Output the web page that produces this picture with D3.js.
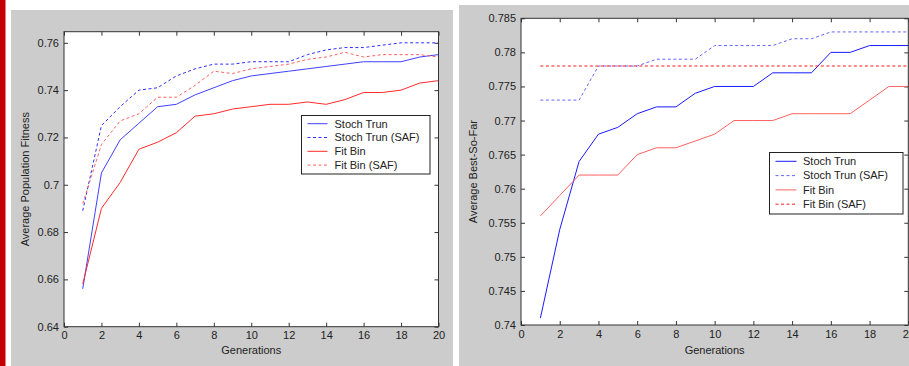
<!DOCTYPE html>
<html>
<head>
<meta charset="utf-8" />
<title>population fitness</title>
<script src="https://cdnjs.cloudflare.com/ajax/libs/d3/7.8.5/d3.min.js"></script>
<style>
    html,
    body {
        margin: 0;
        padding: 0;
        background: #fff;
    }

    svg {
        display: block;
        font-family: Arial, "Liberation Sans", sans-serif;
        overflow: hidden;
    }

    .tick line {
        stroke: #333;
    }

    .tick text {
        fill: #222;
        font-size: 11px;
    }
</style>
</head>
<body>
<svg id="chart" width="909" height="366"></svg>
<script>
    const generations = [1, 2, 3, 4, 5, 6, 7, 8, 9, 10, 11, 12, 13, 14, 15, 16, 17, 18, 19, 20];
    const seriesNames = ["Stoch Trun", "Stoch Trun (SAF)", "Fit Bin", "Fit Bin (SAF)"];

    // left: average population fitness
    const popStochTrun = [0.656, 0.705, 0.719, 0.726, 0.733, 0.734, 0.738, 0.741, 0.744, 0.746,
        0.747, 0.748, 0.749, 0.750, 0.751, 0.752, 0.752, 0.752, 0.754, 0.755];
    const popStochTrunSAF = [0.689, 0.725, 0.733, 0.740, 0.741, 0.746, 0.749, 0.751, 0.751, 0.752,
        0.752, 0.752, 0.755, 0.757, 0.758, 0.758, 0.759, 0.760, 0.760, 0.760];
    const popFitBin = [0.658, 0.690, 0.701, 0.715, 0.718, 0.722, 0.729, 0.730, 0.732, 0.733,
        0.734, 0.734, 0.735, 0.734, 0.736, 0.739, 0.739, 0.740, 0.743, 0.744];
    const popFitBinSAF = [0.692, 0.717, 0.727, 0.730, 0.737, 0.737, 0.742, 0.748, 0.747, 0.749,
        0.750, 0.751, 0.753, 0.754, 0.756, 0.754, 0.755, 0.755, 0.755, 0.754];

    // right: average best-so-far
    const bsfStochTrun = [0.741, 0.754, 0.764, 0.768, 0.769, 0.771, 0.772, 0.772, 0.774, 0.775,
        0.775, 0.775, 0.777, 0.777, 0.777, 0.780, 0.780, 0.781, 0.781, 0.781];
    const bsfStochTrunSAF = [0.773, 0.773, 0.773, 0.778, 0.778, 0.778, 0.779, 0.779, 0.779, 0.781,
        0.781, 0.781, 0.781, 0.782, 0.782, 0.783, 0.783, 0.783, 0.783, 0.783];
    const bsfFitBin = [0.756, 0.759, 0.762, 0.762, 0.762, 0.765, 0.766, 0.766, 0.767, 0.768,
        0.770, 0.770, 0.770, 0.771, 0.771, 0.771, 0.771, 0.773, 0.775, 0.775];
    const bsfFitBinSAF = [0.778, 0.778, 0.778, 0.778, 0.778, 0.778, 0.778, 0.778, 0.778, 0.778,
        0.778, 0.778, 0.778, 0.778, 0.778, 0.778, 0.778, 0.778, 0.778, 0.778];

    const xTicks = [0, 2, 4, 6, 8, 10, 12, 14, 16, 18, 20];
    const popTicks = [0.64, 0.66, 0.68, 0.70, 0.72, 0.74, 0.76];
    const bsfTicks = [0.74, 0.745, 0.75, 0.755, 0.76, 0.765, 0.77, 0.775, 0.78, 0.785];

    const svg = d3.select("#chart");

    // red strip at the far left
    svg.append("rect")
        .attr("x", 0).attr("y", 0)
        .attr("width", 5.5).attr("height", 366)
        .attr("fill", "#c40000");

    const fmt = v => String(+v.toFixed(3));

    function drawPanel(p) {
        const g = svg.append("g");

        g.append("rect")
            .attr("x", p.bg[0]).attr("y", p.bg[1])
            .attr("width", p.bg[2]).attr("height", p.bg[3])
            .attr("fill", "#cccccc");

        const x = d3.scaleLinear().domain([0, 20]).range([p.left, p.right]);
        const y = d3.scaleLinear().domain(p.yDomain).range([p.bottom, p.top]);

        g.append("rect")
            .attr("x", p.left).attr("y", p.top)
            .attr("width", p.right - p.left).attr("height", p.bottom - p.top)
            .attr("fill", "#fff");

        // MATLAB style: ticks inward on all four sides
        g.append("g")
            .attr("transform", `translate(0,${p.bottom})`)
            .call(d3.axisBottom(x).tickValues(xTicks).tickFormat(fmt)
                .tickSizeInner(-4).tickSizeOuter(0).tickPadding(5))
            .call(a => a.select(".domain").remove());
        g.append("g")
            .attr("transform", `translate(0,${p.top})`)
            .call(d3.axisTop(x).tickValues(xTicks).tickFormat("")
                .tickSizeInner(-4).tickSizeOuter(0))
            .call(a => a.select(".domain").remove());
        g.append("g")
            .attr("transform", `translate(${p.left},0)`)
            .call(d3.axisLeft(y).tickValues(p.yTicks).tickFormat(fmt)
                .tickSizeInner(-4).tickSizeOuter(0).tickPadding(5))
            .call(a => a.select(".domain").remove());
        g.append("g")
            .attr("transform", `translate(${p.right},0)`)
            .call(d3.axisRight(y).tickValues(p.yTicks).tickFormat("")
                .tickSizeInner(-4).tickSizeOuter(0))
            .call(a => a.select(".domain").remove());

        g.selectAll(".tick text").attr("font-family", null).attr("font-size", null);

        const line = d3.line()
            .x((d, i) => x(generations[i]))
            .y(d => y(d));

        p.series.forEach((s, i) => {
            g.append("path")
                .attr("d", line(s))
                .attr("fill", "none")
                .attr("stroke", p.colors[i])
                .attr("stroke-width", 1)
                .attr("stroke-dasharray", p.dashed[i] ? "3,2.5" : null);
        });

        // axes box
        g.append("rect")
            .attr("x", p.left).attr("y", p.top)
            .attr("width", p.right - p.left).attr("height", p.bottom - p.top)
            .attr("fill", "none")
            .attr("stroke", "#333")
            .attr("stroke-width", 1);

        g.append("text")
            .attr("x", (p.left + p.right) / 2)
            .attr("y", 354)
            .attr("text-anchor", "middle")
            .attr("font-size", 11)
            .attr("fill", "#222")
            .text("Generations");

        g.append("text")
            .attr("transform", `translate(${p.yLabelX},${(p.top + p.bottom) / 2}) rotate(-90)`)
            .attr("text-anchor", "middle")
            .attr("font-size", 11)
            .attr("fill", "#222")
            .text(p.yLabel);

        // legend
        const L = p.legend;
        const lg = g.append("g");
        lg.append("rect")
            .attr("x", L.x).attr("y", L.y)
            .attr("width", L.w).attr("height", L.h)
            .attr("fill", "#fff")
            .attr("stroke", "#222");
        seriesNames.forEach((name, i) => {
            const cy = L.y + L.first + i * L.step;
            lg.append("line")
                .attr("x1", L.x + 6).attr("x2", L.x + 6 + L.sample)
                .attr("y1", cy).attr("y2", cy)
                .attr("stroke", p.colors[i])
                .attr("stroke-dasharray", p.dashed[i] ? "3,2.5" : null);
            lg.append("text")
                .attr("x", L.x + L.textOff)
                .attr("y", cy)
                .attr("dy", "0.35em")
                .attr("font-size", 11)
                .attr("fill", "#222")
                .text(name);
        });
    }

    drawPanel({
        bg: [11, 10, 442, 356],
        left: 64, right: 438.5, top: 31.7, bottom: 326.7,
        yDomain: [0.64, 0.7647],
        yTicks: popTicks,
        yLabel: "Average Population Fitness",
        yLabelX: 28.5,
        series: [popStochTrun, popStochTrunSAF, popFitBin, popFitBinSAF],
        colors: ["#4040ff", "#3030ff", "#ff2a2a", "#ff6262"],
        dashed: [false, true, false, true],
        legend: { x: 301.5, y: 115.5, w: 128.5, h: 58.5, first: 8.2, step: 13.8, sample: 20, textOff: 33 }
    });

    drawPanel({
        bg: [459, 5, 460, 361],
        left: 521, right: 908.3, top: 18.3, bottom: 325,
        yDomain: [0.74, 0.785],
        yTicks: bsfTicks,
        yLabel: "Average Best-So-Far",
        yLabelX: 477.3,
        series: [bsfStochTrun, bsfStochTrunSAF, bsfFitBin, bsfFitBinSAF],
        colors: ["#1a1aff", "#6666ff", "#ff6060", "#ff1a1a"],
        dashed: [false, true, false, true],
        legend: { x: 769.5, y: 152.5, w: 133.5, h: 61.5, first: 8.8, step: 14.3, sample: 21, textOff: 33.5 }
    });
</script>
</body>
</html>
